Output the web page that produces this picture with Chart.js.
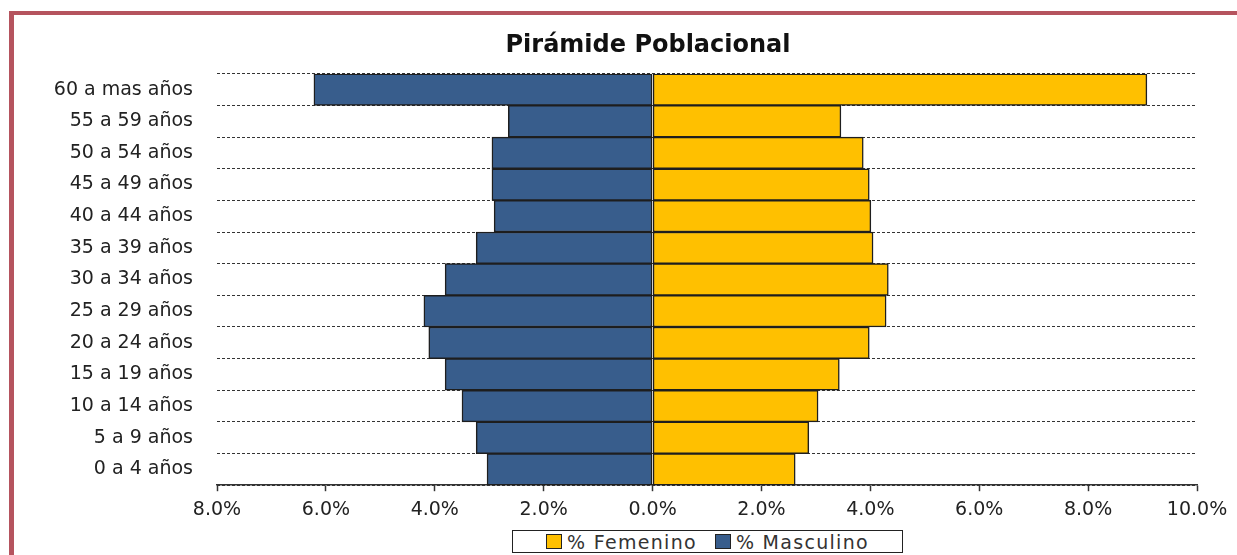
<!DOCTYPE html>
<html>
<head>
<meta charset="utf-8">
<script src="https://cdn.jsdelivr.net/npm/chart.js@4"></script>
<style>
  body { margin: 0; background: #fff; }
  #wrap { position: relative; width: 1237px; height: 555px; overflow: hidden; }
  #frame {
    position: absolute; left: 9px; top: 11px; right: -10px; bottom: -10px;
    border-left: 5px solid #b5545e; border-top: 4px solid #b5545e;
  }
  #chart { position: absolute; left: 0; top: 0; }
  #legend {
    position: absolute; left: 512px; top: 530px; width: 389px; height: 21px;
    border: 1.5px solid #222; background: #fff;
    font-family: "DejaVu Sans", sans-serif; font-size: 19px; letter-spacing: 1.3px;
    color: #333; display: flex; align-items: center; justify-content: center; gap: 18px;
  }
  #legend span.item { display: flex; align-items: center; white-space: nowrap; }
  #legend span.box { width: 14px; height: 13px; border: 1.5px solid #222; margin-right: 5px; }
</style>
</head>
<body>
<div id="wrap">
  <div id="frame"></div>
  <canvas id="chart" width="1237" height="555"></canvas>
  <div id="legend"></div>
</div>
<script>
// age groups from youngest to oldest (drawn bottom to top)
const ageGroups = ["0 a 4 años", "5 a 9 años", "10 a 14 años", "15 a 19 años", "20 a 24 años",
  "25 a 29 años", "30 a 34 años", "35 a 39 años", "40 a 44 años", "45 a 49 años",
  "50 a 54 años", "55 a 59 años", "60 a mas años"];

// percentages
const femenino = [2.62, 2.87, 3.04, 3.43, 3.98, 4.29, 4.33, 4.05, 4.01, 3.98, 3.87, 3.46, 9.08];
const masculino = [3.04, 3.24, 3.50, 3.81, 4.11, 4.20, 3.81, 3.24, 2.91, 2.95, 2.95, 2.65, 6.22];

const xMin = -8, xMax = 10, xStep = 2;

const seriesNames = ["% Femenino", "% Masculino"];
const seriesColors = ["#ffc000", "#385d8c"];

const fontFamily = '"DejaVu Sans", sans-serif';

// the age labels stick out to the left of the axis box, so widen the area they are clipped to
const labelRoom = {
  id: 'labelRoom',
  afterLayout(chart) {
    chart.scales.y.left = 0;
  }
};

const chart = new Chart(document.getElementById('chart'), {
  type: 'bar',
  data: {
    labels: ageGroups,
    datasets: [{
      label: seriesNames[0],
      data: femenino,
      backgroundColor: seriesColors[0],
      borderColor: '#1e1e1e',
      borderWidth: 1.5,
      borderSkipped: false
    }, {
      label: seriesNames[1],
      data: masculino.map(v => -v),
      backgroundColor: seriesColors[1],
      borderColor: '#1e1e1e',
      borderWidth: 1.5,
      borderSkipped: false
    }]
  },
  options: {
    indexAxis: 'y',
    responsive: false,
    animation: false,
    barPercentage: 1,
    categoryPercentage: 1,
    layout: { padding: { left: 99, right: 40, top: 0, bottom: 27 } },
    plugins: {
      legend: { display: false },
      tooltip: { enabled: false },
      title: {
        display: true,
        text: 'Pirámide Poblacional',
        color: '#111',
        font: { family: fontFamily, size: 24, weight: 'bold' },
        padding: { top: 31, bottom: 14 }
      }
    },
    scales: {
      x: {
        stacked: true,
        min: xMin,
        max: xMax,
        ticks: {
          stepSize: xStep,
          padding: 7,
          color: '#222',
          font: { family: fontFamily, size: 19 },
          callback: v => Math.abs(v).toFixed(1) + '%'
        },
        grid: {
          drawOnChartArea: false,
          drawTicks: true,
          tickLength: 6,
          tickColor: '#333',
          tickWidth: 1.5
        },
        border: { display: true, color: '#333', width: 1.5 }
      },
      y: {
        stacked: true,
        reverse: true,
        afterFit: scale => { scale.width = 118; },
        ticks: {
          padding: 24,
          color: '#222',
          font: { family: fontFamily, size: 19 }
        },
        grid: {
          offset: true,
          drawTicks: false,
          color: '#333',
          lineWidth: 1
        },
        border: { display: false, dash: [3, 2] }
      }
    }
  },
  plugins: [labelRoom]
});

// legend box below the chart, built from the datasets
const legend = document.getElementById('legend');
chart.data.datasets.forEach(ds => {
  const item = document.createElement('span');
  item.className = 'item';
  const box = document.createElement('span');
  box.className = 'box';
  box.style.background = ds.backgroundColor;
  item.appendChild(box);
  item.appendChild(document.createTextNode(ds.label));
  legend.appendChild(item);
});
</script>
</body>
</html>
